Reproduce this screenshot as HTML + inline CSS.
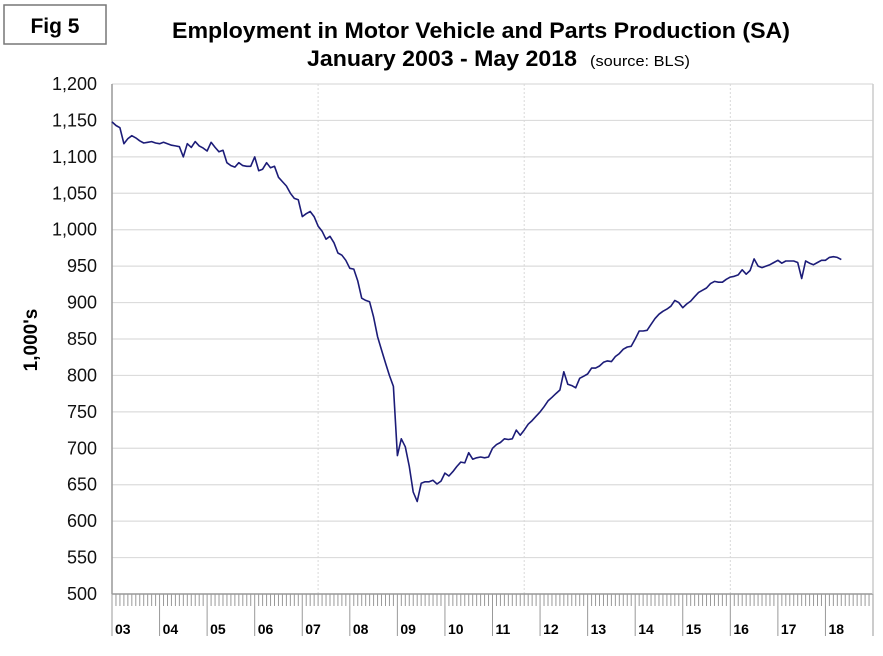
<!DOCTYPE html>
<html><head><meta charset="utf-8"><style>
body{margin:0;background:#fff;width:883px;height:656px;overflow:hidden}
svg{display:block;font-family:"Liberation Sans",Arial,sans-serif}
</style></head><body>
<svg id="chart" width="883" height="656">
<rect x="4" y="5" width="102" height="39" fill="#fff" stroke="#777" stroke-width="1.5"/>
<text x="55" y="33" text-anchor="middle" font-size="21" font-weight="bold">Fig 5</text>
<text x="172" y="38" font-size="22" font-weight="bold" textLength="618" lengthAdjust="spacingAndGlyphs">Employment in Motor Vehicle and Parts Production (SA)</text>
<text x="307" y="66" font-size="22" font-weight="bold" textLength="270" lengthAdjust="spacingAndGlyphs">January 2003 - May 2018</text>
<text x="590" y="66" font-size="15" textLength="100" lengthAdjust="spacingAndGlyphs">(source: BLS)</text>
<text transform="translate(37,340) rotate(-90)" text-anchor="middle" font-size="19" font-weight="bold">1,000's</text>
<g id="grid"></g><g id="axes"></g><g id="series"></g>
</svg>
<script>
const yTicks=[500,550,600,650,700,750,800,850,900,950,1000,1050,1100,1150,1200];
const yearLabels=["03","04","05","06","07","08","09","10","11","12","13","14","15","16","17","18"];
const vGridMonths=[52,104,156];
const employment=[1148,1143,1140,1118,1125,1129,1126,1122,1119,1120,1121,1119,1118,1120,1118,1116,1115,1114,1100,1118,1113,1121,1115,1112,1108,1120,1113,1107,1109,1092,1088,1086,1092,1088,1087,1087,1100,1081,1083,1092,1085,1087,1072,1066,1060,1050,1043,1041,1018,1022,1025,1018,1005,998,987,991,982,968,965,958,947,946,930,906,903,901,880,853,835,817,800,785,690,713,702,675,640,627,652,654,654,656,651,655,666,662,668,675,681,680,694,685,687,688,687,688,700,705,708,713,712,713,725,718,725,733,738,744,750,757,765,770,775,780,805,788,786,783,796,799,802,810,810,813,818,820,819,826,830,836,839,840,850,861,861,862,870,878,884,888,891,895,903,900,893,898,902,908,914,917,920,926,929,928,928,932,935,936,938,945,939,944,960,950,948,950,952,955,958,954,957,957,957,955,933,957,954,952,955,958,958,962,963,962,959];
const X0=112,X1=873,Y0=594,Y1=84,NM=192;
const xs=m=>X0+m*(X1-X0)/NM;
const ys=v=>Y0-(v-500)*(Y0-Y1)/700;
const NS="http://www.w3.org/2000/svg";
function mk(tag,attrs,parent,txt){const e=document.createElementNS(NS,tag);for(const k in attrs)e.setAttribute(k,attrs[k]);if(txt!==undefined)e.textContent=txt;parent.appendChild(e);return e;}
const grid=document.getElementById('grid'),axes=document.getElementById('axes'),series=document.getElementById('series');
yTicks.forEach(v=>{
  if(v>500){const l=mk('line',{x1:X0,x2:X1,y1:ys(v),y2:ys(v),stroke:'#dcdcdc','stroke-width':1.2},grid);
  
  }
  const t=mk('text',{x:97,y:ys(v)+6,'text-anchor':'end','font-size':18,fill:'#111'},axes,v.toLocaleString('en-US'));
  
  
});
vGridMonths.forEach(m=>{
  const l=mk('line',{x1:xs(m),x2:xs(m),y1:Y1,y2:Y0,stroke:'#d8d8d8','stroke-dasharray':'2,2'},grid);
  
  
});
for(let m=0;m<=NM;m++){
  const yr=m%12===0;
  const l=mk('line',{x1:xs(m),x2:xs(m),y1:Y0,y2:yr?636:606,stroke:'#999','stroke-width':1},axes);
  
  
}
yearLabels.forEach((lab,i)=>{
  const t=mk('text',{x:xs(i*12)+3,y:634,'font-size':14,'font-weight':'bold'},axes,lab);
  
  
});
const xa=mk('line',{x1:X0,x2:X1,y1:Y0,y2:Y0,stroke:'#999','stroke-width':1.5},axes);


const ya=mk('line',{x1:X0,x2:X0,y1:Y1,y2:Y0,stroke:'#999','stroke-width':1.5},axes);


const rb=mk('line',{x1:X1,x2:X1,y1:Y1,y2:Y0,stroke:'#ccc','stroke-width':1.5},axes);


const pts=employment.map((v,i)=>xs(i).toFixed(1)+','+ys(v).toFixed(1)).join(' ');
const pl=mk('polyline',{points:pts,fill:'none',stroke:'#1c1c78','stroke-width':1.6,'stroke-linejoin':'round'},series);


</script>
</body></html>
